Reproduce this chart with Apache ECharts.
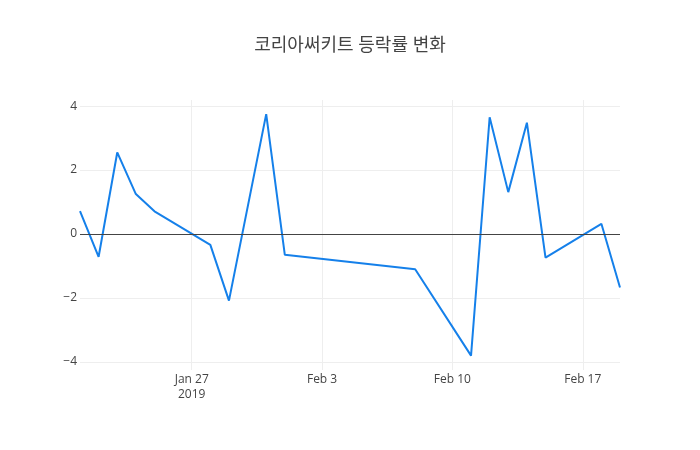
<!DOCTYPE html>
<html>
<head>
<meta charset="utf-8">
<script src="https://cdn.jsdelivr.net/npm/echarts@6/dist/echarts.min.js"></script>
<style>
  html, body { margin: 0; padding: 0; background: #fff; }
  #chart { width: 700px; height: 450px; }
</style>
</head>
<body>
<div id="chart"></div>
<script>
'use strict';

// 일자별 등락률 (%)
const dates = [
  '2019-01-21', '2019-01-22', '2019-01-23', '2019-01-24', '2019-01-25',
  '2019-01-28', '2019-01-29', '2019-01-31', '2019-02-01', '2019-02-08',
  '2019-02-11', '2019-02-12', '2019-02-13', '2019-02-14', '2019-02-15',
  '2019-02-18', '2019-02-19'
];
const changes = [
  0.72, -0.71, 2.55, 1.25, 0.71,
  -0.34, -2.08, 3.75, -0.65, -1.10,
  -3.80, 3.65, 1.31, 3.48, -0.74,
  0.32, -1.67
];
const xTickDates = ['2019-01-27', '2019-02-03', '2019-02-10', '2019-02-17'];
const xTickLabels = ['Jan 27\n2019', 'Feb 3', 'Feb 10', 'Feb 17'];
const yTicks = [-4, -2, 0, 2, 4];

const ts = (d) => new Date(d + 'T00:00:00Z').getTime();
const xTickValues = xTickDates.map(ts);

const $chart = echarts.init(document.getElementById('chart'));
const fontFamily = '"Open Sans", "Noto Sans CJK KR", sans-serif';

const option = {
  animation: false,
  backgroundColor: '#fff',
  title: {
    text: '코리아써키트 등락률 변화',
    left: 'center',
    top: 32,
    textStyle: { fontFamily, fontSize: 18, fontWeight: 'normal', color: '#444' }
  },
  grid: { left: 80, right: 80, top: 100, bottom: 80 },
  xAxis: {
    type: 'value',
    min: ts('2019-01-21'),
    max: ts('2019-02-19'),
    axisLine: { show: false },
    axisTick: { show: false, customValues: xTickValues },
    splitLine: { show: true, lineStyle: { color: '#eee', width: 1 } },
    axisLabel: {
      customValues: xTickValues,
      margin: 2,
      color: '#444',
      fontFamily,
      fontSize: 12,
      lineHeight: 15,
      formatter: (v) => {
        const i = xTickValues.indexOf(v);
        return i >= 0 ? xTickLabels[i] : '';
      }
    }
  },
  yAxis: {
    type: 'value',
    min: -4.25,
    max: 4.19,
    axisLine: { show: false },
    axisTick: { show: false, customValues: yTicks },
    splitLine: { show: true, lineStyle: { color: '#eee', width: 1 } },
    axisLabel: {
      customValues: yTicks,
      margin: 3,
      color: '#444',
      fontFamily,
      fontSize: 12,
      formatter: (v) => (v < 0 ? '\u2212' + (-v) : String(v))
    }
  },
  series: [
    {
      type: 'line',
      data: dates.map((d, i) => [ts(d), changes[i]]),
      showSymbol: false,
      symbol: 'none',
      lineStyle: { color: '#1580ea', width: 2 },
      markLine: {
        silent: true,
        symbol: 'none',
        label: { show: false },
        lineStyle: { color: '#444', width: 1, type: 'solid' },
        data: [{ yAxis: 0 }]
      },
      z: 3
    }
  ]
};
$chart.setOption(option);

window.addEventListener('resize', () => $chart.resize());
</script>
</body>
</html>
